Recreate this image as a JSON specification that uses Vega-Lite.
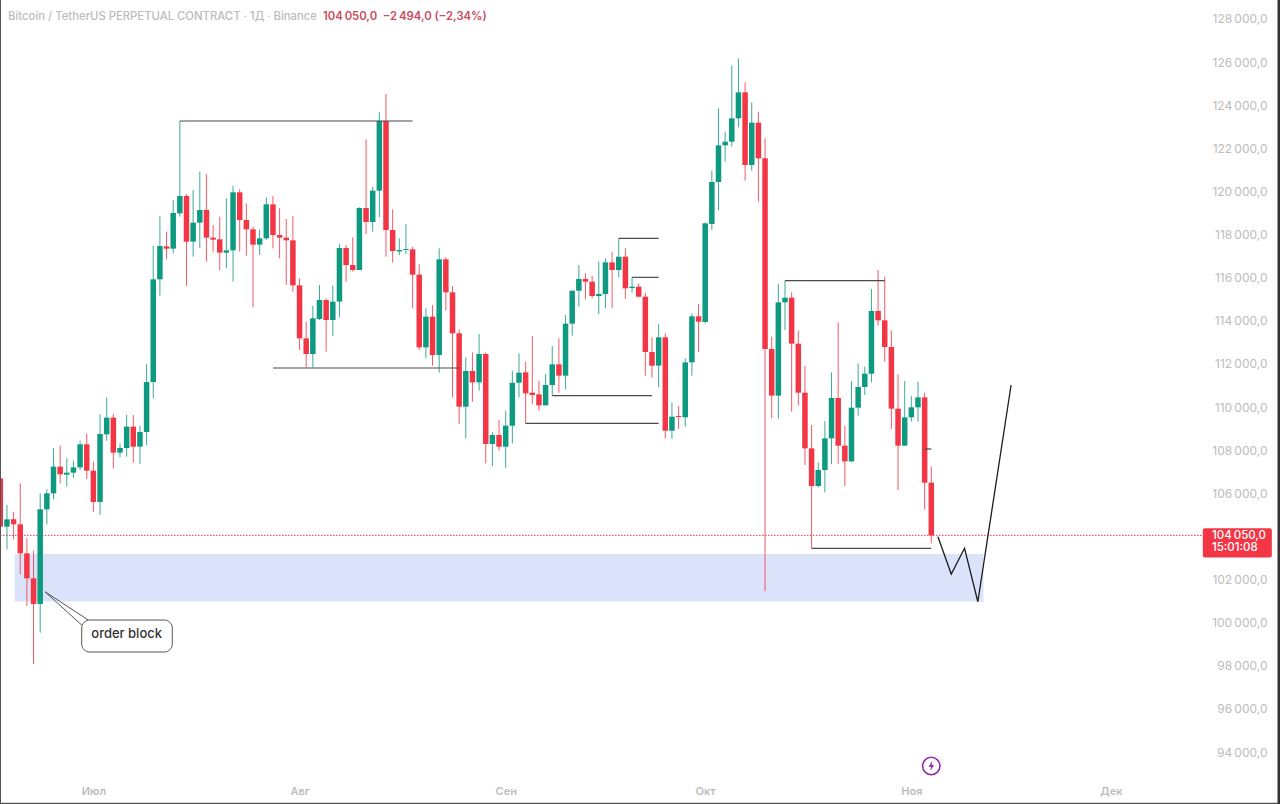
{
  "$schema": "https://vega.github.io/schema/vega-lite/v6.json",
  "description": "Bitcoin / TetherUS perpetual contract, daily candles with hand drawn levels.",
  "background": "white",
  "autosize": "none",
  "padding": 0,
  "width": 1280,
  "height": 804,
  "datasets": {
    "candles": [
      {"date":"2025-06-17","open":106696,"high":107701,"low":103295,"close":104455},
      {"date":"2025-06-18","open":104455,"high":105459,"low":103403,"close":104795},
      {"date":"2025-06-19","open":104795,"high":105150,"low":103867,"close":104563},
      {"date":"2025-06-20","open":104563,"high":106464,"low":102244,"close":103218},
      {"date":"2025-06-21","open":103218,"high":103913,"low":100775,"close":102058},
      {"date":"2025-06-22","open":102058,"high":103341,"low":98085,"close":100868},
      {"date":"2025-06-23","open":100868,"high":106001,"low":99538,"close":105259},
      {"date":"2025-06-24","open":105259,"high":106186,"low":104563,"close":106001},
      {"date":"2025-06-25","open":106001,"high":108088,"low":105722,"close":107237},
      {"date":"2025-06-26","open":107237,"high":108211,"low":106464,"close":106882},
      {"date":"2025-06-27","open":106866,"high":107624,"low":106310,"close":106959},
      {"date":"2025-06-28","open":106959,"high":107516,"low":106727,"close":107206},
      {"date":"2025-06-29","open":107206,"high":108443,"low":107083,"close":108273},
      {"date":"2025-06-30","open":108273,"high":108752,"low":106665,"close":107052},
      {"date":"2025-07-01","open":107052,"high":107469,"low":105150,"close":105599},
      {"date":"2025-07-02","open":105599,"high":109665,"low":104996,"close":108752},
      {"date":"2025-07-03","open":108737,"high":110453,"low":108443,"close":109510},
      {"date":"2025-07-04","open":109510,"high":109680,"low":107160,"close":107887},
      {"date":"2025-07-05","open":107887,"high":108320,"low":107670,"close":108103},
      {"date":"2025-07-06","open":108103,"high":109634,"low":107701,"close":109093},
      {"date":"2025-07-07","open":109093,"high":109634,"low":107423,"close":108165},
      {"date":"2025-07-08","open":108165,"high":109139,"low":107361,"close":108845},
      {"date":"2025-07-09","open":108845,"high":111999,"low":108242,"close":111164},
      {"date":"2025-07-10","open":111164,"high":117472,"low":110407,"close":115926},
      {"date":"2025-07-11","open":115926,"high":118863,"low":115168,"close":117472},
      {"date":"2025-07-12","open":117456,"high":118137,"low":116854,"close":117348},
      {"date":"2025-07-13","open":117348,"high":119605,"low":117132,"close":119002},
      {"date":"2025-07-14","open":118987,"high":123269,"low":118832,"close":119791},
      {"date":"2025-07-15","open":119791,"high":119883,"low":115617,"close":117673},
      {"date":"2025-07-16","open":117673,"high":120069,"low":116977,"close":118554},
      {"date":"2025-07-17","open":118554,"high":120919,"low":117379,"close":119141},
      {"date":"2025-07-18","open":119141,"high":120811,"low":116745,"close":117858},
      {"date":"2025-07-19","open":117858,"high":118446,"low":117178,"close":117765},
      {"date":"2025-07-20","open":117781,"high":118832,"low":116359,"close":117163},
      {"date":"2025-07-21","open":117163,"high":119682,"low":116436,"close":117271},
      {"date":"2025-07-22","open":117271,"high":120270,"low":115817,"close":119961},
      {"date":"2025-07-23","open":119961,"high":120100,"low":117209,"close":118678},
      {"date":"2025-07-24","open":118678,"high":119451,"low":117008,"close":118245},
      {"date":"2025-07-25","open":118245,"high":118368,"low":114627,"close":117534},
      {"date":"2025-07-26","open":117534,"high":118245,"low":117054,"close":117827},
      {"date":"2025-07-27","open":117827,"high":119729,"low":117750,"close":119404},
      {"date":"2025-07-28","open":119404,"high":119791,"low":117363,"close":117982},
      {"date":"2025-07-29","open":117982,"high":119219,"low":116900,"close":117858},
      {"date":"2025-07-30","open":117858,"high":118724,"low":115663,"close":117735},
      {"date":"2025-07-31","open":117735,"high":118863,"low":115354,"close":115647},
      {"date":"2025-08-01","open":115647,"high":115972,"low":112648,"close":113189},
      {"date":"2025-08-02","open":113189,"high":113962,"low":111844,"close":112463},
      {"date":"2025-08-03","open":112463,"high":114689,"low":111844,"close":114117},
      {"date":"2025-08-04","open":114086,"high":115663,"low":114040,"close":114967},
      {"date":"2025-08-05","open":114967,"high":115044,"low":112571,"close":114040},
      {"date":"2025-08-06","open":114040,"high":115632,"low":113298,"close":114890},
      {"date":"2025-08-07","open":114890,"high":117564,"low":114163,"close":117379},
      {"date":"2025-08-08","open":117379,"high":117518,"low":115817,"close":116590},
      {"date":"2025-08-09","open":116590,"high":117874,"low":116281,"close":116359},
      {"date":"2025-08-10","open":116359,"high":119265,"low":116359,"close":119234},
      {"date":"2025-08-11","open":119234,"high":122419,"low":118028,"close":118585},
      {"date":"2025-08-12","open":118585,"high":120224,"low":118136,"close":120038},
      {"date":"2025-08-13","open":120038,"high":123671,"low":118801,"close":123269},
      {"date":"2025-08-14","open":123269,"high":124521,"low":116977,"close":118214},
      {"date":"2025-08-15","open":118214,"high":119172,"low":116699,"close":117240},
      {"date":"2025-08-16","open":117224,"high":117827,"low":117054,"close":117286},
      {"date":"2025-08-17","open":117286,"high":118491,"low":117100,"close":117332},
      {"date":"2025-08-18","open":117317,"high":117440,"low":114580,"close":116142},
      {"date":"2025-08-19","open":116142,"high":116621,"low":112648,"close":112771},
      {"date":"2025-08-20","open":112771,"high":114580,"low":112261,"close":114194},
      {"date":"2025-08-21","open":114194,"high":114735,"low":111921,"close":112416},
      {"date":"2025-08-22","open":112416,"high":117363,"low":111596,"close":116853},
      {"date":"2025-08-23","open":116853,"high":116945,"low":114472,"close":115322},
      {"date":"2025-08-24","open":115322,"high":115616,"low":110452,"close":113421},
      {"date":"2025-08-25","open":113421,"high":113606,"low":109215,"close":110019},
      {"date":"2025-08-26","open":110019,"high":112307,"low":108551,"close":111674},
      {"date":"2025-08-27","open":111674,"high":112539,"low":110251,"close":111148},
      {"date":"2025-08-28","open":111148,"high":113390,"low":110761,"close":112462},
      {"date":"2025-08-29","open":112462,"high":112539,"low":107391,"close":108288},
      {"date":"2025-08-30","open":108288,"high":108829,"low":107268,"close":108705},
      {"date":"2025-08-31","open":108705,"high":109401,"low":107979,"close":108164},
      {"date":"2025-09-01","open":108164,"high":109834,"low":107175,"close":109138},
      {"date":"2025-09-02","open":109138,"high":111689,"low":108319,"close":111133},
      {"date":"2025-09-03","open":111133,"high":112493,"low":110452,"close":111596},
      {"date":"2025-09-04","open":111612,"high":112106,"low":109246,"close":110638},
      {"date":"2025-09-05","open":110669,"high":113297,"low":110143,"close":110560},
      {"date":"2025-09-06","open":110591,"high":111225,"low":109834,"close":110081},
      {"date":"2025-09-07","open":110081,"high":111534,"low":110081,"close":111024},
      {"date":"2025-09-08","open":111024,"high":112833,"low":110530,"close":111983},
      {"date":"2025-09-09","open":111983,"high":113189,"low":110669,"close":111457},
      {"date":"2025-09-10","open":111457,"high":114271,"low":110823,"close":113869},
      {"date":"2025-09-11","open":113869,"high":115399,"low":113312,"close":115399},
      {"date":"2025-09-12","open":115399,"high":116590,"low":114657,"close":115941},
      {"date":"2025-09-13","open":115941,"high":116203,"low":114998,"close":115817},
      {"date":"2025-09-14","open":115817,"high":116080,"low":115044,"close":115152},
      {"date":"2025-09-15","open":115152,"high":116744,"low":114317,"close":115245},
      {"date":"2025-09-16","open":115245,"high":116899,"low":114580,"close":116714},
      {"date":"2025-09-17","open":116714,"high":117208,"low":114580,"close":116358},
      {"date":"2025-09-18","open":116358,"high":117827,"low":116018,"close":116976},
      {"date":"2025-09-19","open":116976,"high":117363,"low":115013,"close":115508},
      {"date":"2025-09-20","open":115523,"high":116018,"low":115307,"close":115585},
      {"date":"2025-09-21","open":115585,"high":115740,"low":115090,"close":115121},
      {"date":"2025-09-22","open":115121,"high":115307,"low":111457,"close":112555},
      {"date":"2025-09-23","open":112555,"high":113235,"low":111380,"close":111921},
      {"date":"2025-09-24","open":111921,"high":113838,"low":110916,"close":113235},
      {"date":"2025-09-25","open":113235,"high":113421,"low":108551,"close":108906},
      {"date":"2025-09-26","open":108906,"high":110220,"low":108520,"close":109556},
      {"date":"2025-09-27","open":109587,"high":110050,"low":108984,"close":109540},
      {"date":"2025-09-28","open":109525,"high":112261,"low":109092,"close":112076},
      {"date":"2025-09-29","open":112076,"high":114348,"low":111457,"close":114209},
      {"date":"2025-09-30","open":114209,"high":114781,"low":112570,"close":113962},
      {"date":"2025-10-01","open":113947,"high":118554,"low":113885,"close":118523},
      {"date":"2025-10-02","open":118492,"high":120966,"low":118214,"close":120440},
      {"date":"2025-10-03","open":120440,"high":123856,"low":119141,"close":122140},
      {"date":"2025-10-04","open":122140,"high":122774,"low":121383,"close":122310},
      {"date":"2025-10-05","open":122310,"high":125835,"low":122079,"close":123393},
      {"date":"2025-10-06","open":123393,"high":126175,"low":122975,"close":124599},
      {"date":"2025-10-07","open":124599,"high":125062,"low":120502,"close":121228},
      {"date":"2025-10-08","open":121228,"high":124135,"low":120965,"close":123192},
      {"date":"2025-10-09","open":123192,"high":123702,"low":119528,"close":121537},
      {"date":"2025-10-10","open":121537,"high":122465,"low":101470,"close":112694},
      {"date":"2025-10-11","open":112694,"high":113266,"low":109478,"close":110530},
      {"date":"2025-10-12","open":110530,"high":115709,"low":109478,"close":114859},
      {"date":"2025-10-13","open":114859,"high":115863,"low":113575,"close":115075},
      {"date":"2025-10-14","open":115075,"high":115322,"low":109788,"close":112942},
      {"date":"2025-10-15","open":112942,"high":113544,"low":110066,"close":110669},
      {"date":"2025-10-16","open":110669,"high":111906,"low":107314,"close":108087},
      {"date":"2025-10-17","open":108087,"high":109169,"low":103449,"close":106340},
      {"date":"2025-10-18","open":106340,"high":107438,"low":106278,"close":107082},
      {"date":"2025-10-19","open":107082,"high":109355,"low":106046,"close":108551},
      {"date":"2025-10-20","open":108551,"high":111612,"low":107360,"close":110422},
      {"date":"2025-10-21","open":110422,"high":113931,"low":107360,"close":108211},
      {"date":"2025-10-22","open":108211,"high":109123,"low":106340,"close":107484},
      {"date":"2025-10-23","open":107484,"high":111210,"low":107453,"close":109973},
      {"date":"2025-10-24","open":109973,"high":112029,"low":109602,"close":110932},
      {"date":"2025-10-25","open":110932,"high":111875,"low":110561,"close":111550},
      {"date":"2025-10-26","open":111550,"high":115477,"low":111148,"close":114457},
      {"date":"2025-10-27","open":114457,"high":116358,"low":113776,"close":114024},
      {"date":"2025-10-28","open":114024,"high":116049,"low":112107,"close":112787},
      {"date":"2025-10-29","open":112787,"high":113544,"low":108984,"close":109927},
      {"date":"2025-10-30","open":109927,"high":111519,"low":106155,"close":108211},
      {"date":"2025-10-31","open":108211,"high":111210,"low":108211,"close":109525},
      {"date":"2025-11-01","open":109525,"high":110514,"low":109324,"close":109989},
      {"date":"2025-11-02","open":109989,"high":111179,"low":109324,"close":110452},
      {"date":"2025-11-03","open":110452,"high":110669,"low":105258,"close":106495},
      {"date":"2025-11-04","open":106495,"high":107237,"low":103681,"close":104050}
    ],
    "levels": [
      {"date":"2025-07-14","date2":"2025-08-18","price":123269},
      {"date":"2025-07-28","date2":"2025-08-25","price":111813},
      {"date":"2025-09-08","date2":"2025-09-23","price":110530},
      {"date":"2025-09-04","date2":"2025-09-24","price":109246},
      {"date":"2025-09-18","date2":"2025-09-24","price":117827},
      {"date":"2025-09-20","date2":"2025-09-24","price":116018},
      {"date":"2025-10-13","date2":"2025-10-28","price":115863},
      {"date":"2025-10-17","date2":"2025-11-04","price":103449},
      {"date":"2025-11-03","date2":"2025-11-04","price":108057}
    ],
    "forecast": [
      {"date":"2025-11-05","price":103989},
      {"date":"2025-11-07","price":102259},
      {"date":"2025-11-09","price":103451},
      {"date":"2025-11-11","price":100973},
      {"date":"2025-11-16","price":111025}
    ]
  },
  "encoding": {
    "x": {
      "field": "date",
      "type": "temporal",
      "title": null,
      "scale": {"type": "utc", "padding": 0, "domain": ["2025-06-16T22:55:00Z", "2025-12-26T10:30:00Z"]},
      "axis": {
        "orient": "bottom",
        "values": ["2025-07-01", "2025-08-01", "2025-09-01", "2025-10-01", "2025-11-01", "2025-12-01"],
        "labelExpr": "['Янв','Фев','Мар','Апр','Май','Июн','Июл','Авг','Сен','Окт','Ноя','Дек'][utcmonth(datum.value)]",
        "grid": false,
        "ticks": false,
        "domain": true,
        "domainColor": "#555555",
        "domainWidth": 3.5,
        "labelPadding": -10,
        "labelBaseline": "alphabetic",
        "labelFont": "Inter",
        "labelFontSize": 11,
        "labelFontWeight": 600,
        "labelColor": "#bdbdbd"
      }
    },
    "y": {
      "field": "price",
      "type": "quantitative",
      "title": null,
      "scale": {"domain": [91592, 128881], "nice": false, "zero": false},
      "axis": {
        "orient": "right",
        "values": [94000, 96000, 98000, 100000, 102000, 104000, 106000, 108000, 110000, 112000, 114000, 116000, 118000, 120000, 122000, 124000, 126000, 128000],
        "labelExpr": "datum.value == 104000 ? '' : replace(replace(format(datum.value, ',.1f'), ',', '\u2009'), '.', ',')",
        "grid": false,
        "ticks": false,
        "domain": false,
        "labelAlign": "right",
        "labelBaseline": "middle",
        "labelPadding": -13,
        "labelFont": "Inter",
        "labelFontSize": 12,
        "labelColor": "#bcbcbc"
      }
    }
  },
  "layer": [
    {
      "data": {"values": [{"date":"2025-06-19T04:00:00Z","date2":"2025-11-11T20:24:00Z","price":103186,"price2":100983}]},
      "mark": {"type": "rect", "fill": "#dbe3fb"},
      "encoding": {"x2": {"field": "date2"}, "y2": {"field": "price2"}}
    },
    {
      "data": {"values": [{"date":"2025-06-16T23:00:00Z","price":104050},{"date":"2025-12-14T16:00:00Z","price":104050}]},
      "mark": {"type": "line", "stroke": "#f23645", "strokeWidth": 1, "strokeDash": [1.5, 1.5]}
    },
    {
      "data": {"name": "candles"},
      "mark": {"type": "rule", "strokeWidth": 1, "opacity": 0.82},
      "encoding": {
        "y": {"field": "low", "type": "quantitative", "title": null, "scale": {"domain": [91592, 128881], "nice": false, "zero": false}},
        "y2": {"field": "high"},
        "color": {"condition": {"test": "datum.close >= datum.open", "value": "#0e9a80"}, "value": "#f23645"}
      }
    },
    {
      "data": {"name": "candles"},
      "mark": {"type": "bar", "size": 5.5},
      "encoding": {
        "y": {"field": "open", "type": "quantitative", "title": null, "scale": {"domain": [91592, 128881], "nice": false, "zero": false}},
        "y2": {"field": "close"},
        "color": {"condition": {"test": "datum.close >= datum.open", "value": "#0e9a80"}, "value": "#f23645"}
      }
    },
    {
      "data": {"name": "levels"},
      "mark": {"type": "rule", "stroke": "#4a4a4a", "strokeWidth": 1.2},
      "encoding": {"x2": {"field": "date2"}}
    },
    {
      "data": {"name": "forecast"},
      "mark": {"type": "line", "stroke": "#1c1c1c", "strokeWidth": 1.3}
    },
    {
      "data": {"values": [
        {"date":"2025-06-23T17:20:00Z","date2":"2025-06-29T05:45:00Z","price":101438,"price2":99893},
        {"date":"2025-06-23T17:20:00Z","date2":"2025-06-30T05:30:00Z","price":101438,"price2":100125}
      ]},
      "mark": {"type": "rule", "stroke": "#555555", "strokeWidth": 1},
      "encoding": {"x2": {"field": "date2"}, "y2": {"field": "price2"}}
    },
    {
      "data": {"values": [{"date":"2025-06-29T05:45:00Z","date2":"2025-07-12T20:40:00Z","price":100125,"price2":98641}]},
      "mark": {"type": "rect", "fill": "white", "stroke": "#555555", "strokeWidth": 1, "cornerRadius": 8},
      "encoding": {"x2": {"field": "date2"}, "y2": {"field": "price2"}}
    },
    {
      "data": {"values": [{"date":"2025-07-06","price":99476,"label":"order block"}]},
      "mark": {"type": "text", "font": "Inter", "fontSize": 13, "fontWeight": 500, "fill": "#333333", "align": "center", "baseline": "middle"},
      "encoding": {"text": {"field": "label"}}
    },
    {
      "data": {"values": [{"date":"2025-06-18T04:00:00Z","price":128100,"label":"Bitcoin / TetherUS PERPETUAL CONTRACT · 1Д · Binance"}]},
      "mark": {"type": "text", "font": "Inter", "fontSize": 11.3, "fontWeight": 500, "fill": "#bcbcbc", "align": "left", "baseline": "middle"},
      "encoding": {"text": {"field": "label"}}
    },
    {
      "data": {"values": [{"date":"2025-08-04T12:45:00Z","price":128100,"label":"104\u2009050,0\u00a0\u00a0−2\u2009494,0 (−2,34%)"}]},
      "mark": {"type": "text", "font": "Inter", "fontSize": 11.3, "fontWeight": 600, "fill": "#cb4a5e", "align": "left", "baseline": "middle"},
      "encoding": {"text": {"field": "label"}}
    },
    {
      "data": {"values": [{"date":"2025-12-14T20:00:00Z","date2":"2025-12-25T05:00:00Z","price":104380,"price2":103030}]},
      "mark": {"type": "rect", "fill": "#f23645", "cornerRadius": 2},
      "encoding": {"x2": {"field": "date2"}, "y2": {"field": "price2"}}
    },
    {
      "data": {"values": [
        {"date":"2025-12-16T05:00:00Z","price":104021,"label":"104\u2009050,0"},
        {"date":"2025-12-16T05:00:00Z","price":103465,"label":"15:01:08"}
      ]},
      "mark": {"type": "text", "font": "Inter", "fontSize": 11.5, "fontWeight": 500, "fill": "white", "align": "left", "baseline": "middle"},
      "encoding": {"text": {"field": "label"}}
    },
    {
      "data": {"values": [{"date":"2025-11-04","price":93354}]},
      "mark": {"type": "point", "shape": "circle", "size": 300, "filled": false, "stroke": "#8e24aa", "strokeWidth": 1.5, "opacity": 1}
    },
    {
      "data": {"values": [{"date":"2025-11-04","price":93354}]},
      "mark": {"type": "point", "shape": "M0.2,-1L-0.55,0.15L-0.05,0.15L-0.2,1L0.55,-0.2L0.05,-0.2Z", "size": 100, "filled": true, "fill": "#8e24aa", "opacity": 1}
    },
    {
      "data": {"values": [{"date":"2025-06-16T22:55:00Z"}]},
      "mark": {"type": "rule", "stroke": "#555555", "strokeWidth": 2},
      "encoding": {"y": null}
    },
    {
      "data": {"values": [{"date":"2025-12-26T10:30:00Z"}]},
      "mark": {"type": "rule", "stroke": "#333333", "strokeWidth": 5},
      "encoding": {"y": null}
    }
  ],
  "config": {"view": {"stroke": null}}
}
